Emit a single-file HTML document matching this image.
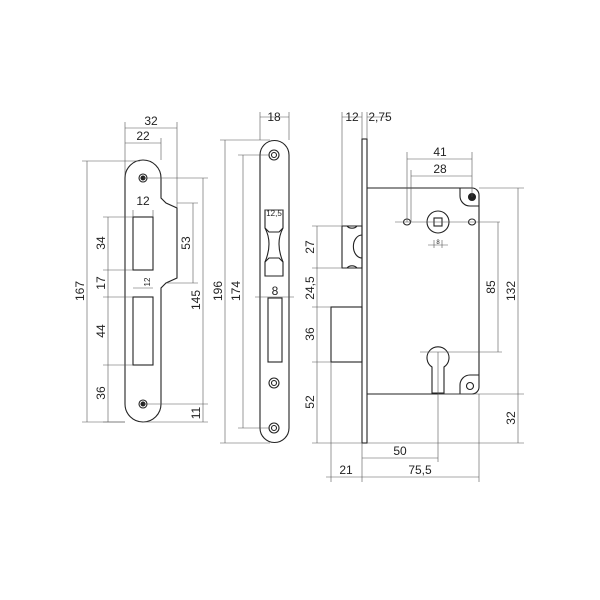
<!DOCTYPE html>
<html><head><style>html,body{margin:0;padding:0;background:#fff}svg{display:block}</style></head>
<body>
<svg width="600" height="600" viewBox="0 0 600 600" xmlns="http://www.w3.org/2000/svg" font-family="Liberation Sans, sans-serif" font-size="12" fill="#222">
<g fill="none" stroke="#222" stroke-width="1.1">
<!-- strike plate 1 -->
<path d="M125,178 A18,18 0 0 1 161,178 L161,198 L166,203 L177,208 L177,278 L166,283 L161,288 L161,404 A18,18 0 0 1 125,404 Z"/>
<circle cx="143" cy="178" r="4"/><circle cx="143" cy="178" r="2" fill="#222"/>
<circle cx="143" cy="404" r="4"/><circle cx="143" cy="404" r="2" fill="#222"/>
<rect x="133" y="217" width="20" height="53"/>
<rect x="133" y="297" width="20" height="68"/>
<!-- strike plate 2 -->
<path d="M260,155 A14.5,14.5 0 0 1 289,155 L289,428 A14.5,14.5 0 0 1 260,428 Z"/>
<circle cx="274" cy="155" r="5"/><circle cx="274" cy="155" r="2.5"/>
<circle cx="274" cy="383" r="5"/><circle cx="274" cy="383" r="2.5"/>
<circle cx="274" cy="428" r="5"/><circle cx="274" cy="428" r="2.5"/>
<path d="M265,210 L283,210 L283,228 Q275,243 283,262 L283,276 L265,276 L265,262 Q273,243 265,228 Z"/>
<path d="M265,228 L269,232 L279,232 L283,228 M265,262 L269,258 L279,258 L283,262"/>
<rect x="268" y="298" width="14" height="64"/>
<!-- lock -->
<rect x="362" y="139" width="5" height="304"/>
<path d="M367,188 L472,188 A7,7 0 0 1 479,195 L479,387 A7,7 0 0 1 472,394 L367,394"/>
<path d="M342,226 L362,226 L362,268 L342,268 Z"/>
<path d="M347,226 A6,5 0 0 0 357,226 M347,268 A6,5 0 0 1 357,268 M362,235 A6,8 0 0 0 362,258"/>
<rect x="331" y="307" width="31" height="55"/>
<path d="M460,188 L460,196 A10,10 0 0 0 470,206 L479,206"/>
<path d="M460,394 L460,385 A10,10 0 0 1 470,375 L479,375"/>
<circle cx="438" cy="222" r="11"/><rect x="434" y="218" width="8" height="8"/>
<ellipse cx="407" cy="222" rx="3.5" ry="3"/><ellipse cx="472" cy="222" rx="3.5" ry="3"/>
<circle cx="472" cy="197" r="3.5" fill="#222"/>
<circle cx="470" cy="386" r="3.5"/>
<path d="M432,393 L432,367 A11,11 0 1 1 444,367 L444,393 Z"/>
</g>
<g fill="none" stroke="#555" stroke-width="0.6">
<path d="M125,122 L125,175 M177,122 L177,208 M161,138 L161,160 M125,128 L177,128 M125,143 L161,143"/>
<path d="M87,161 L87,422 M82,161 L140,161 M82,422 L125,422"/>
<path d="M108,217 L108,422 M103,217 L133,217 M103,270 L133,270 M103,297 L133,297 M103,365 L133,365 M103,422 L125,422"/>
<path d="M133,210 L133,217 M153,210 L153,217 M133,288 L153,288"/>
<path d="M177,203 L198,203 M166,283 L198,283 M193,203 L193,283"/>
<path d="M143,178 L208,178 M203,178 L203,422 M143,404 L208,404 M143,422 L208,422"/>
<path d="M260,112 L260,140 M289,112 L289,140 M260,117 L289,117"/>
<path d="M220,140 L270,140 M225,140 L225,443 M220,443 L270,443"/>
<path d="M238,155 L270,155 M243,155 L243,428 M238,428 L270,428"/>
<path d="M265,210 L283,210 M255,297 L294,297"/>
<path d="M342,112 L342,226 M362,112 L362,139 M367,112 L367,139 M342,117 L362,117 M367,117 L388,117"/>
<path d="M407,152 L407,222 M472,152 L472,197 M411,170 L411,222 M407,159 L472,159 M411,176 L472,176"/>
<path d="M395,222 L500,222 M420,352 L502,352 M498,222 L498,352"/>
<path d="M479,188 L524,188 M438,394 L524,394 M367,443 L524,443 M518,188 L518,443"/>
<path d="M312,226 L342,226 M312,268 L342,268 M312,307 L331,307 M312,362 L331,362 M312,443 L362,443 M317,226 L317,443"/>
<path d="M331,362 L331,482 M362,443 L362,482 M438,352 L438,462 M479,394 L479,482"/>
<path d="M362,458 L438,458 M326,477 L362,477 M362,477 L479,477"/>
<path d="M428,245 L448,245 M434,240 L434,248 M442,240 L442,248"/>
</g>
<g text-anchor="middle">
<text x="151" y="125">32</text><text x="143" y="140">22</text>
<text x="143" y="205">12</text>
<text x="147" y="285" font-size="8" transform="rotate(-90 147 282)">12</text>
<text x="84" y="291" transform="rotate(-90 84 291)">167</text>
<text x="105" y="243" transform="rotate(-90 105 243)">34</text>
<text x="105" y="283" transform="rotate(-90 105 283)">17</text>
<text x="105" y="331" transform="rotate(-90 105 331)">44</text>
<text x="105" y="393" transform="rotate(-90 105 393)">36</text>
<text x="190" y="243" transform="rotate(-90 190 243)">53</text>
<text x="200" y="300" transform="rotate(-90 200 300)">145</text>
<text x="200" y="413" transform="rotate(-90 200 413)">11</text>
<text x="274" y="121">18</text>
<text x="222" y="291" transform="rotate(-90 222 291)">196</text>
<text x="240" y="291" transform="rotate(-90 240 291)">174</text>
<text x="274" y="216" font-size="8">12,5</text>
<text x="275" y="295">8</text>
<text x="352" y="121">12</text><text x="380" y="121">2,75</text>
<text x="440" y="156">41</text><text x="440" y="173">28</text>
<text x="438" y="244" font-size="6">8</text>
<text x="495" y="287" transform="rotate(-90 495 287)">85</text>
<text x="515" y="291" transform="rotate(-90 515 291)">132</text>
<text x="515" y="418" transform="rotate(-90 515 418)">32</text>
<text x="314" y="247" transform="rotate(-90 314 247)">27</text>
<text x="314" y="288" transform="rotate(-90 314 288)">24,5</text>
<text x="314" y="334" transform="rotate(-90 314 334)">36</text>
<text x="314" y="402" transform="rotate(-90 314 402)">52</text>
<text x="400" y="455">50</text>
<text x="346" y="474">21</text>
<text x="420" y="474">75,5</text>
</g>
</svg>
</body></html>
